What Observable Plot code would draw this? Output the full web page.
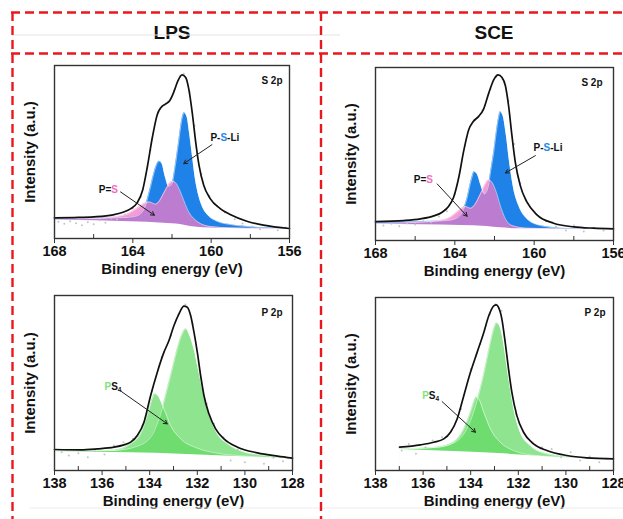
<!DOCTYPE html>
<html><head><meta charset="utf-8">
<script src="https://cdn.jsdelivr.net/npm/d3@7"></script>
<script src="https://cdn.jsdelivr.net/npm/@observablehq/plot@0.6"></script>
<style>
html,body{margin:0;padding:0;background:#fff;overflow:hidden;width:623px;height:519px;}
#root{position:relative;width:623px;height:519px;font-family:"Liberation Sans",Arial,sans-serif;}
.panel{position:absolute;}
.hdr{position:absolute;font-weight:bold;font-size:19px;transform:translate(-50%,-50%);color:#111;white-space:nowrap;}
#grid{position:absolute;left:0;top:0;pointer-events:none;}
</style></head><body><div id="root"></div>
<script>
// ---------- data ----------
const columnHeaders = ["LPS", "SCE"];
const xTitle = "Binding energy (eV)";
const yTitle = "Intensity (a.u.)";
const s2pMajorTicks = [168, 164, 160, 156];
const s2pMinorTicks = [166, 162, 158];
const p2pMajorTicks = [138, 136, 134, 132, 130, 128];
const p2pMinorTicks = [137, 135, 133, 131, 129];

// LPS S 2p
const lpsS2pEnvelope = [[168.00,62],[167.00,63],[165.99,65],[165.01,71],[164.50,79],[164.12,89],[163.78,107],[163.50,145],[163.26,215],[163.00,305],[162.75,373],[162.56,394],[162.34,404],[162.12,414],[161.91,440],[161.71,472],[161.49,492],[161.30,484],[161.13,445],[160.96,375],[160.79,290],[160.62,220],[160.38,160],[160.05,120],[159.54,90],[159.03,72],[158.18,52],[157.33,40],[156.00,30]];
const lpsS2pPSLi = [[168.00,59],[165.99,61],[164.46,63],[163.95,66],[163.61,74],[163.36,98],[163.14,145],[162.93,195],[162.76,225],[162.65,232],[162.51,225],[162.34,185],[162.17,157],[162.00,165],[161.83,220],[161.66,290],[161.52,350],[161.37,378],[161.23,365],[161.10,315],[160.96,250],[160.81,180],[160.64,130],[160.42,92],[160.13,68],[159.71,52],[159.03,42],[158.18,36],[157.33,32],[156.00,29]];
const lpsS2pPeqS = [[168.00,58],[165.99,60],[164.46,70],[163.95,84],[163.61,98],[163.36,107],[163.19,110],[163.02,107],[162.85,103],[162.68,110],[162.46,132],[162.25,155],[162.08,168],[161.95,172],[161.78,165],[161.57,140],[161.37,110],[161.15,80],[160.89,60],[160.55,45],[160.05,36],[159.03,32],[156.00,29]];
const lpsS2pBaseline = [[168.00,55],[165.82,53],[164.12,50],[162.42,46],[161.57,42],[161.06,36],[160.38,32],[159.03,30],[156.00,28]];
const lpsS2pRaw = [[167.8,50],[167.5,44],[167.2,52],[166.9,46],[166.6,40],[166.3,49],[166.0,43],[165.7,55],[165.4,47],[165.1,60],[164.8,58],[164.4,72],[164.0,90],[163.6,125],[163.1,265],[162.6,390],[162.2,412],[161.9,445],[161.6,487],[161.4,495],[161.1,440],[160.85,340],[160.5,195],[160.1,128],[159.7,98],[159.3,78],[158.8,58],[158.4,45],[157.9,36],[157.5,28],[157.1,38],[156.6,25],[156.2,33]];

// SCE S 2p
const sceS2pEnvelope = [[168.00,57],[166.57,60],[165.73,65],[165.06,74],[164.64,85],[164.31,103],[164.06,130],[163.80,190],[163.55,270],[163.30,333],[163.08,357],[162.80,373],[162.55,395],[162.29,443],[162.04,483],[161.82,498],[161.62,490],[161.45,465],[161.29,405],[161.12,315],[160.95,235],[160.70,165],[160.36,115],[159.86,77],[159.02,52],[158.01,41],[157.01,37],[156.00,35]];
const sceS2pPSLi = [[168.00,55],[165.73,57],[164.39,60],[163.89,68],[163.64,84],[163.38,128],[163.18,180],[163.02,207],[162.85,197],[162.68,165],[162.51,140],[162.33,160],[162.18,213],[162.04,265],[161.91,325],[161.79,370],[161.71,387],[161.57,375],[161.40,315],[161.24,235],[161.03,155],[160.78,105],[160.36,65],[159.69,45],[158.68,37],[156.00,33]];
const sceS2pPeqS = [[168.00,51],[165.73,55],[164.39,65],[163.89,85],[163.64,97],[163.47,102],[163.22,97],[162.97,110],[162.71,140],[162.46,170],[162.29,182],[162.13,175],[161.91,145],[161.71,105],[161.45,65],[161.12,45],[160.36,37],[156.00,33]];
const sceS2pBaseline = [[168.00,49],[165.73,47],[163.72,45],[162.38,42],[161.71,38],[160.70,35],[156.00,32]];
const sceS2pRaw = [[167.6,45],[167.2,50],[166.8,43],[166.4,52],[166.0,48],[165.6,58],[165.2,55],[164.8,72],[164.4,88],[164.0,140],[163.5,285],[163.0,362],[162.6,392],[162.2,455],[161.9,492],[161.6,485],[161.3,420],[161.0,290],[160.7,172],[160.3,110],[159.9,80],[159.4,58],[158.9,42],[158.4,30],[158.0,45],[157.5,27],[157.0,38],[156.5,30]];

// LPS P 2p
const lpsP2pEnvelope = [[138.00,63],[136.91,62],[136.20,65],[135.50,70],[135.08,77],[134.80,85],[134.52,105],[134.24,145],[133.96,225],[133.68,295],[133.40,355],[133.19,390],[132.98,435],[132.77,470],[132.56,493],[132.42,490],[132.28,465],[132.14,415],[132.00,355],[131.86,285],[131.72,225],[131.51,170],[131.23,125],[130.88,95],[130.31,70],[129.47,53],[128.63,43],[128.00,37]];
const lpsP2pMain = [[138.00,58],[135.50,60],[134.52,73],[133.96,100],[133.54,170],[133.26,245],[133.05,305],[132.84,365],[132.63,410],[132.47,425],[132.35,410],[132.14,365],[131.93,295],[131.72,225],[131.44,155],[131.16,110],[130.73,80],[130.03,55],[129.19,45],[128.00,37]];
const lpsP2pSecond = [[138.00,58],[135.50,61],[134.80,80],[134.38,110],[134.10,165],[133.89,215],[133.79,230],[133.61,220],[133.40,185],[133.12,135],[132.70,95],[132.00,67],[131.16,52],[129.89,43],[128.00,36]];
const lpsP2pBaseline = [[138.00,56],[134.80,53],[132.70,49],[130.59,43],[128.00,35]];
const lpsP2pRaw = [[137.7,55],[137.4,45],[137.0,52],[136.6,40],[136.3,58],[135.9,48],[135.5,75],[135.1,85],[134.7,95],[134.3,135],[133.9,240],[133.5,340],[133.1,405],[132.8,468],[132.5,498],[132.2,440],[131.9,300],[131.6,200],[131.3,140],[130.9,100],[130.6,30],[130.3,62],[130.0,25],[129.6,45],[129.2,20],[128.8,38],[128.4,28]];

// SCE P 2p
const sceP2pEnvelope = [[136.99,70],[136.11,77],[135.55,85],[135.13,95],[134.85,115],[134.57,155],[134.29,225],[134.01,295],[133.73,355],[133.45,415],[133.24,465],[133.03,495],[132.92,498],[132.83,490],[132.69,455],[132.55,385],[132.41,305],[132.27,235],[132.06,165],[131.78,115],[131.36,80],[130.80,60],[129.96,45],[129.12,38],[128.00,35]];
const sceP2pMain = [[136.99,65],[135.41,70],[134.71,83],[134.29,110],[134.01,150],[133.73,210],[133.45,290],[133.17,385],[133.01,430],[132.90,443],[132.76,430],[132.62,385],[132.48,315],[132.31,235],[132.13,165],[131.92,115],[131.50,75],[130.80,50],[129.68,40],[128.00,35]];
const sceP2pSecond = [[136.99,65],[135.41,70],[134.71,85],[134.29,125],[134.01,175],[133.85,210],[133.76,220],[133.66,215],[133.45,175],[133.17,125],[132.76,85],[132.20,60],[131.22,45],[128.00,35]];
const sceP2pBaseline = [[136.99,63],[134.71,57],[132.62,50],[130.52,40],[128.00,33]];
const sceP2pRaw = [[136.9,60],[136.6,80],[136.3,50],[135.9,70],[135.6,90],[135.2,100],[134.8,120],[134.4,185],[134.0,305],[133.6,380],[133.2,470],[132.95,500],[132.7,480],[132.4,300],[132.1,170],[131.8,120],[131.4,85],[131.0,70],[130.6,65],[130.2,40],[129.8,55],[129.4,30],[129.0,42],[128.6,25],[128.3,36]];

// annotations: [x, y] text anchors and [x1, y1, x2, y2] arrows
const lpsS2pLabelPos = [[160.04,303],[165.74,145]];
const lpsS2pArrows = [[159.96,282,161.40,225],[164.63,140,162.90,70]];
const sceS2pLabelPos = [[160.03,280],[166.07,183]];
const sceS2pArrows = [[159.94,255,161.45,203],[164.89,170,163.38,73]];
const lpsP2pLabelPos = [[135.90,250]];
const lpsP2pArrows = [[135.19,237,133.26,140]];
const sceP2pLabelPos = [[136.04,225]];
const sceP2pArrows = [[135.20,207,133.80,115]];
const s2pCorner = "S 2p";
const p2pCorner = "P 2p";

// ---------- drawing ----------
const FONT = "'Liberation Sans', Arial, Helvetica, sans-serif";
const BLUE = "#1f82e8", PINK = "#f27ac8", GREEN = "#5fd85f";
const ctx = document.createElement("canvas").getContext("2d");
function textW(s, size) { ctx.font = `bold ${size}px ${FONT}`; return ctx.measureText(s).width; }
const P = a => a.map(d => ({x: d[0], y: d[1]}));

// label pieces: text + colour (+ subscript flag)
const labelPSLi = [["P-", "#111"], ["S", "#1e88e5"], ["-Li", "#111"]];
const labelPeqS = [["P=", "#111"], ["S", "#f06ec0"]];
const labelPS4 = [["P", "#7ee47e"], ["S", "#111"], ["4", "#111", true]];

function labelMarks(pos, parts) {
  const marks = [];
  let off = 0;
  for (const [s, c, sub] of parts) {
    const fs = sub ? 6.5 : 10;
    marks.push(Plot.text([{x: pos[0], y: pos[1]}], {
      x: "x", y: "y", text: () => s, dx: off, dy: sub ? 3 : 0,
      textAnchor: "start", lineAnchor: "middle", fill: c,
      fontSize: fs, fontWeight: "bold", fontFamily: FONT
    }));
    off += textW(s, fs);
  }
  return marks;
}

function panel(cfg) {
  const mL = 44, mR = 10, mT = 8, mB = 45;
  const fw = cfg.R - cfg.L, fh = cfg.B - cfg.T;
  const W = mL + fw + mR, H = mT + fh + mB;
  const marks = [];
  for (const c of cfg.comps) {
    marks.push(Plot.areaY(P(c.data), {x: "x", y1: 0, y2: "y", fill: c.fill, fillOpacity: c.opacity, curve: "monotone-x"}));
  }
  marks.push(Plot.areaY(P(cfg.baseline), {x: "x", y1: 0, y2: "y", fill: "white", curve: "monotone-x"}));
  for (const c of cfg.comps) {
    marks.push(Plot.line(P(c.data), {x: "x", y: "y", stroke: "white", strokeOpacity: 0.6, strokeWidth: 0.9, curve: "monotone-x"}));
  }
  marks.push(Plot.dot(P(cfg.raw), {x: "x", y: "y", r: 1, fill: "#c4c4c4", stroke: null}));
  marks.push(Plot.line(P(cfg.envelope), {x: "x", y: "y", stroke: "#111", strokeWidth: 1.7, curve: "monotone-x"}));
  marks.push(Plot.arrow(cfg.arrows, {x1: d => d[0], y1: d => d[1], x2: d => d[2], y2: d => d[3], stroke: "#222", strokeWidth: 1, headLength: 6}));
  cfg.labels.forEach((pos, i) => marks.push(...labelMarks(pos, cfg.labelParts[i])));
  marks.push(Plot.text([cfg.corner], {frameAnchor: "top-right", dx: cfg.cornerDx, dy: cfg.cornerDy, textAnchor: "end", lineAnchor: "middle", fontSize: 10, fontWeight: "bold", fill: "#111"}));
  marks.push(Plot.ruleX(cfg.minor, {y1: 0, y2: cfg.yMax * 4 / fh, stroke: "#333", strokeWidth: 1}));
  marks.push(Plot.axisX({ticks: cfg.major, tickSize: 5, tickPadding: 2, label: null, tickFormat: d => String(d), fontSize: 14.5, fontWeight: "bold", stroke: "#333"}));
  marks.push(Plot.text([xTitle], {frameAnchor: "bottom", dy: 31, textAnchor: "middle", lineAnchor: "middle", fontSize: 15, fontWeight: "bold", fill: "#111"}));
  marks.push(Plot.text([yTitle], {frameAnchor: "left", dx: -24, rotate: -90, textAnchor: "middle", lineAnchor: "middle", fontSize: 15, fontWeight: "bold", fill: "#111"}));
  marks.push(Plot.frame({stroke: "#333", strokeWidth: 1.4}));
  const chart = Plot.plot({
    width: W, height: H, marginLeft: mL, marginRight: mR, marginTop: mT, marginBottom: mB,
    x: {domain: cfg.xDomain},
    y: {domain: [0, cfg.yMax], axis: null},
    style: {fontFamily: FONT, color: "#111", background: "transparent", overflow: "visible"},
    marks
  });
  const div = document.createElement("div");
  div.className = "panel";
  div.style.left = (cfg.L - mL) + "px";
  div.style.top = (cfg.T - mT) + "px";
  div.appendChild(chart);
  document.getElementById("root").appendChild(div);
}

const root = document.getElementById("root");

panel({L: 54, R: 289, T: 65, B: 238, yMax: 520, xDomain: [168, 156], major: s2pMajorTicks, minor: s2pMinorTicks,
  comps: [{data: lpsS2pPSLi, fill: BLUE, opacity: 1}, {data: lpsS2pPeqS, fill: PINK, opacity: 0.75}],
  baseline: lpsS2pBaseline, envelope: lpsS2pEnvelope, raw: lpsS2pRaw, arrows: lpsS2pArrows,
  labels: lpsS2pLabelPos, labelParts: [labelPSLi, labelPeqS], corner: s2pCorner, cornerDx: -7, cornerDy: 15});
panel({L: 375, R: 613, T: 67, B: 240, yMax: 520, xDomain: [168, 156], major: s2pMajorTicks, minor: s2pMinorTicks,
  comps: [{data: sceS2pPSLi, fill: BLUE, opacity: 1}, {data: sceS2pPeqS, fill: PINK, opacity: 0.75}],
  baseline: sceS2pBaseline, envelope: sceS2pEnvelope, raw: sceS2pRaw, arrows: sceS2pArrows,
  labels: sceS2pLabelPos, labelParts: [labelPSLi, labelPeqS], corner: s2pCorner, cornerDx: -11, cornerDy: 15});
panel({L: 54, R: 292, T: 295, B: 470, yMax: 525, xDomain: [138, 128], major: p2pMajorTicks, minor: p2pMinorTicks,
  comps: [{data: lpsP2pMain, fill: GREEN, opacity: 0.7}, {data: lpsP2pSecond, fill: GREEN, opacity: 0.7}],
  baseline: lpsP2pBaseline, envelope: lpsP2pEnvelope, raw: lpsP2pRaw, arrows: lpsP2pArrows,
  labels: lpsP2pLabelPos, labelParts: [labelPS4], corner: p2pCorner, cornerDx: -10, cornerDy: 17});
panel({L: 375, R: 613, T: 297, B: 470, yMax: 520, xDomain: [138, 128], major: p2pMajorTicks, minor: p2pMinorTicks,
  comps: [{data: sceP2pMain, fill: GREEN, opacity: 0.7}, {data: sceP2pSecond, fill: GREEN, opacity: 0.7}],
  baseline: sceP2pBaseline, envelope: sceP2pEnvelope, raw: sceP2pRaw, arrows: sceP2pArrows,
  labels: sceP2pLabelPos, labelParts: [labelPS4], corner: p2pCorner, cornerDx: -8, cornerDy: 15});

// column headers
[[columnHeaders[0], 172], [columnHeaders[1], 494]].forEach(([t, x]) => {
  const h = document.createElement("div");
  h.className = "hdr"; h.textContent = t;
  h.style.left = x + "px"; h.style.top = "33px";
  root.appendChild(h);
});

// red dashed layout frame + faint scan lines
const ns = "http://www.w3.org/2000/svg";
const g = document.createElementNS(ns, "svg");
g.setAttribute("id", "grid"); g.setAttribute("width", 623); g.setAttribute("height", 519);
const seg = (x1, y1, x2, y2, stroke, w, dash) => {
  const l = document.createElementNS(ns, "line");
  l.setAttribute("x1", x1); l.setAttribute("y1", y1); l.setAttribute("x2", x2); l.setAttribute("y2", y2);
  l.setAttribute("stroke", stroke); l.setAttribute("stroke-width", w);
  if (dash) l.setAttribute("stroke-dasharray", dash);
  g.appendChild(l);
};
seg(12, 35, 340, 35, "#e4e4e4", 1);
seg(30, 508, 623, 508, "#ececec", 1);
seg(11, 12.5, 623, 12.5, "#e8191e", 2.4, "9 5");
seg(11, 53.5, 623, 53.5, "#e8191e", 2.4, "9 5");
seg(12.5, 12, 12.5, 519, "#e8191e", 2.4, "9 5");
seg(321, 12, 321, 519, "#e8191e", 2.4, "9 5");
root.appendChild(g);
</script></body></html>
